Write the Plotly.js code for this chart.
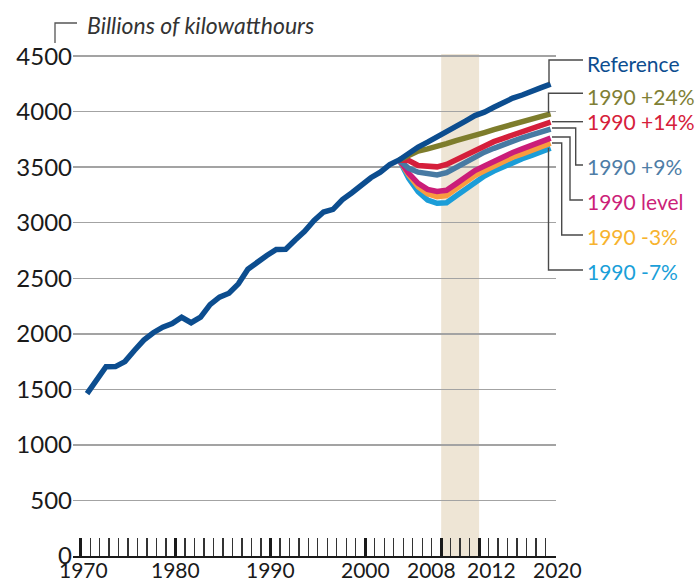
<!DOCTYPE html>
<html><head><meta charset="utf-8">
<script src="https://cdn.plot.ly/plotly-3.0.1.min.js"></script>
<style>html,body{margin:0;padding:0;background:#fff}#chart{width:698px;height:582px}</style>
</head><body><div id="chart"></div>
<script>
// ---- data ----
const refYears = [1971,1972,1973,1974,1975,1976,1977,1978,1979,1980,
  1981,1982,1983,1984,1985,1986,1987,1988,1989,1990,
  1991,1992,1993,1994,1995,1996,1997,1998,1999,2000,
  2001,2002,2003,2004,2005,2006,2007,2008,2009,2010,
  2011,2012,2013,2014,2015,2016,2017,2018,2019,2020];
const refValues = [1462,1582,1704,1705,1750,1850,1944,2010,2060,2092,
  2149,2100,2150,2263,2330,2365,2450,2582,2650,2705,
  2760,2762,2845,2922,3020,3096,3120,3208,3270,3338,
  3405,3455,3523,3565,3630,3681,3725,3770,3823,3872,
  3915,3965,3995,4039,4085,4122,4150,4177,4216,4248];
const scenYears = [2004,2005,2006,2007,2008,2009,2010,2011,2012,2013,2014,2015,2016,2017,2018,2019,2020];
const plus24 = [3565,3612,3645,3665,3683,3712,3740,3768,3793,3812,3838,3862,3880,3902,3925,3950,3980];
const plus14 = [3565,3560,3515,3503,3503,3525,3565,3610,3655,3695,3730,3760,3790,3818,3845,3872,3905];
const plus9  = [3565,3490,3455,3438,3430,3450,3495,3545,3595,3635,3670,3705,3736,3765,3790,3815,3843];
const level  = [3565,3445,3355,3300,3282,3292,3350,3415,3470,3510,3555,3595,3632,3665,3695,3727,3762];
const minus3 = [3565,3430,3325,3260,3235,3245,3305,3368,3425,3468,3510,3550,3590,3620,3650,3682,3717];
const minus7 = [3565,3400,3280,3205,3175,3180,3240,3305,3370,3420,3465,3505,3545,3577,3607,3637,3672];
const seriesNames = ["Reference","1990 +24%","1990 +14%","1990 +9%","1990 level","1990 -3%","1990 -7%"];
const yTicks = [0,500,1000,1500,2000,2500,3000,3500,4000,4500];
const xTickVals = [1970,1980,1990,2000,2008,2012,2020];
const xTickText = ["1970","1980","1990","2000","2008","2012","2020"];
const bandYears = [2008,2012];
const yTitle = "Billions of kilowatthours";

// ---- styling ----
const lineColors = ["#0c4d8f","#7e7d2c","#d51f3b","#477aa3","#cb1d78","#f89b3f","#1b9dd8"];
const textColors = ["#0c4d8f","#7f7f35","#d6203a","#4e7da6","#cc1f79","#f7b32e","#1a9fd9"];
const FONT = "Lato, 'Open Sans', sans-serif";
const L = 73, R = 556, T = 45, B = 556;
function PX(px){ return (px - L)/(R - L); }
function PY(py){ return (B - py)/(B - T); }

const scen = [plus24, plus14, plus9, level, minus3, minus7];
const traces = [];
for (let i = scen.length - 1; i >= 0; i--) {
  traces.push({x: scenYears, y: scen[i], xaxis: 'x2', yaxis: 'y', type: 'scatter', mode: 'lines',
    name: seriesNames[i+1], line: {color: lineColors[i+1], width: 5.5}, hoverinfo: 'skip'});
}
traces.push({x: refYears, y: refValues, xaxis: 'x2', yaxis: 'y', type: 'scatter', mode: 'lines',
  name: seriesNames[0], line: {color: lineColors[0], width: 5.5}, hoverinfo: 'skip'});
traces.push({x: [xTickVals[0]], y: [null], xaxis: 'x', yaxis: 'y', type: 'scatter', mode: 'lines', showlegend: false, hoverinfo: 'skip'});

// connectors (pixel paths)
const connectors = [
  [[549,83],[549,60],[583,60]],
  [[548.5,113],[548.5,93.3],[583,93.3]],
  [[552,121.7],[583,121.7]],
  [[552,128],[575.7,128],[575.7,165],[583,165]],
  [[552,137],[570,137],[570,200],[583,200]],
  [[552,143],[561.7,143],[561.7,235],[583,235]],
  [[548.5,148],[548.5,270],[583,270]]
];
const labelY = [62,95,120,165,200,235,270];

const shapes = [
  {type:'rect', xref:'x', yref:'y', x0: bandYears[0], x1: bandYears[1], y0: 0, y1: 4520,
   fillcolor:'#eee5d5', line:{width:0}, layer:'below'},
  {type:'path', xref:'paper', yref:'paper',
   path: `M ${PX(55)},${PY(43)} L ${PX(55)},${PY(23)} L ${PX(77)},${PY(23)}`,
   line:{color:'#555', width:1.3}}
];
connectors.forEach(pts => {
  shapes.push({type:'path', xref:'paper', yref:'paper',
    path: pts.map((p,k)=> (k? 'L ':'M ') + PX(p[0]) + ',' + PY(p[1])).join(' '),
    line:{color:'#4a4a4a', width:1.4}});
});

const annotations = [];
annotations.push({xref:'paper', yref:'paper', x: PX(85), y: PY(25), xanchor:'left', yanchor:'middle',
  text: yTitle, showarrow:false, font:{family:FONT, size:23, color:'#333', style:'italic'}});
seriesNames.forEach((n,i) => {
  annotations.push({xref:'paper', yref:'paper', x: PX(585), y: PY(labelY[i]+1), xanchor:'left', yanchor:'middle',
    text: n, showarrow:false, font:{family:FONT, size:21, color:textColors[i]}});
});
const xLabelShift = [3,0,0,0,-10,12,2];
xTickVals.forEach((v,i) => {
  annotations.push({xref:'x', yref:'paper', x: v, y: PY(569), xanchor:'center', yanchor:'middle',
    xshift: xLabelShift[i], text: xTickText[i], showarrow:false, borderpad:0,
    font:{family:FONT, size:21, color:'#1a1a1a'}});
});

const layout = {
  width: 698, height: 582,
  margin: {l: L, r: 698 - R, t: T, b: 582 - B, pad: 0},
  paper_bgcolor: '#fff', plot_bgcolor: 'rgba(0,0,0,0)',
  showlegend: false,
  xaxis: {range: [1969.19, 2020.105], tickmode: 'array', tickvals: xTickVals, showticklabels: false,
    ticks: 'inside', ticklen: 18, tickwidth: 3, tickcolor: '#1a1a1a',
    showline: true, linecolor: '#1a1a1a', linewidth: 2, showgrid: false, zeroline: false, fixedrange: true,
    minor: {dtick: 1, tick0: 1970, ticks: 'inside', ticklen: 18, tickwidth: 1.3, tickcolor: '#333', showgrid: false}},
  xaxis2: {range: [1969.514, 2020.571], overlaying: 'x', visible: false, fixedrange: true},
  yaxis: {range: [0, 4600], tickmode: 'array', tickvals: yTicks, ticks: '',
    showgrid: true, gridcolor: '#a3a3a3', gridwidth: 1.5, zeroline: false, showline: false,
    tickfont: {family: FONT, size: 24, color: '#1a1a1a'}, fixedrange: true},
  shapes: shapes,
  annotations: annotations
};
Plotly.newPlot('chart', traces, layout, {displayModeBar: false, staticPlot: true});
</script>
</body></html>
